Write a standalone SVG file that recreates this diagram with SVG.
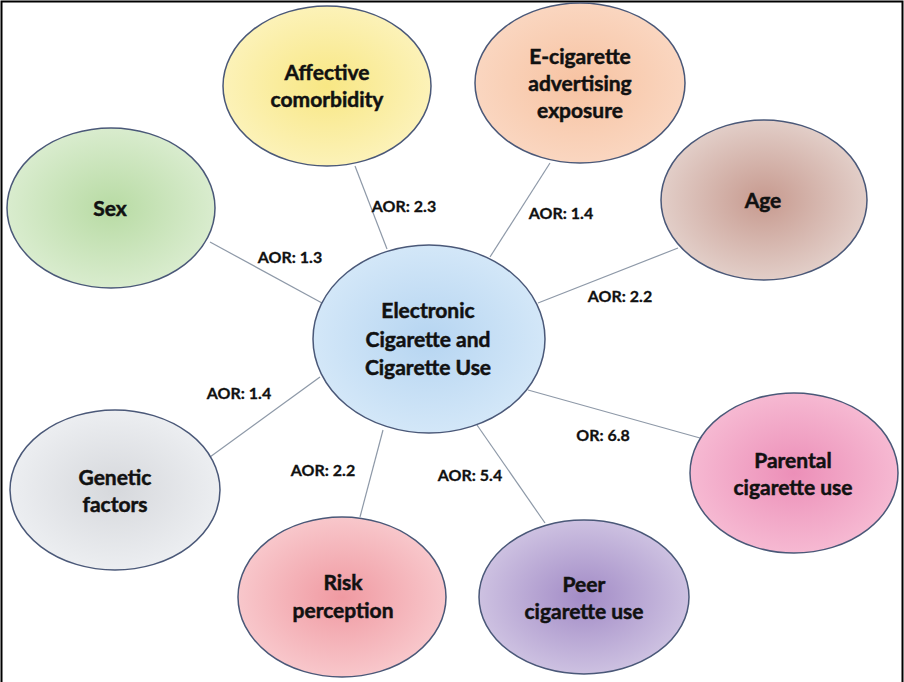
<svg xmlns="http://www.w3.org/2000/svg" width="904" height="682" viewBox="0 0 904 682">
<defs>
<radialGradient id="gCenter"><stop offset="0" stop-color="#b6d5f1"/><stop offset="1" stop-color="#d3e7f8"/></radialGradient>
<radialGradient id="gYellow"><stop offset="0" stop-color="#f8e784"/><stop offset="1" stop-color="#fcf2b8"/></radialGradient>
<radialGradient id="gGreen"><stop offset="0" stop-color="#b8dba4"/><stop offset="1" stop-color="#d9ecce"/></radialGradient>
<radialGradient id="gPeach"><stop offset="0" stop-color="#f7c3a2"/><stop offset="1" stop-color="#fad6c0"/></radialGradient>
<radialGradient id="gBrown"><stop offset="0" stop-color="#c79a8f"/><stop offset="1" stop-color="#e2cec8"/></radialGradient>
<radialGradient id="gGray"><stop offset="0" stop-color="#d6d8dc"/><stop offset="1" stop-color="#eceef1"/></radialGradient>
<radialGradient id="gRed"><stop offset="0" stop-color="#f09aa2"/><stop offset="1" stop-color="#f8c7cb"/></radialGradient>
<radialGradient id="gPink"><stop offset="0" stop-color="#ec8fb8"/><stop offset="1" stop-color="#f6b9d2"/></radialGradient>
<radialGradient id="gPurple"><stop offset="0" stop-color="#a28bc6"/><stop offset="1" stop-color="#cdc1e1"/></radialGradient>
</defs>
<style>
.node ellipse{stroke:#4a5878;stroke-width:1.5}
.node text{font-family:Lato,"Liberation Sans",sans-serif;font-weight:bold;font-size:21px;fill:#111;stroke:#111;stroke-width:0.5;text-anchor:middle}
.conn line{stroke:#8e99a8;stroke-width:1.2}
.lbl{font-family:Lato,"Liberation Sans",sans-serif;font-weight:bold;font-size:16px;fill:#111;stroke:#111;stroke-width:0.3;text-anchor:middle}
</style>
<rect width="904" height="682" fill="#ffffff"/>
<path d="M1.5,682 V1.5 H902.5 V682" fill="none" stroke="#000" stroke-width="2"/>
<g id="connectors" class="conn">
<line x1="210" y1="242" x2="322" y2="303"/>
<line x1="355" y1="166" x2="387" y2="249"/>
<line x1="550" y1="163" x2="490" y2="257"/>
<line x1="678" y1="248" x2="538" y2="303"/>
<line x1="210" y1="457" x2="320" y2="377"/>
<line x1="383" y1="430" x2="360" y2="517"/>
<line x1="477" y1="425" x2="545" y2="523"/>
<line x1="528" y1="390" x2="700" y2="438"/>
<text class="lbl" x="290" y="263">AOR: 1.3</text>
<text class="lbl" x="404" y="212">AOR: 2.3</text>
<text class="lbl" x="561" y="219">AOR: 1.4</text>
<text class="lbl" x="620" y="302">AOR: 2.2</text>
<text class="lbl" x="239" y="399">AOR: 1.4</text>
<text class="lbl" x="323" y="476">AOR: 2.2</text>
<text class="lbl" x="470" y="481">AOR: 5.4</text>
<text class="lbl" x="603" y="441">OR: 6.8</text>
</g>
<g id="node-center" class="node">
<ellipse cx="429" cy="339" rx="116" ry="94" fill="url(#gCenter)"/>
<text x="428" y="318">Electronic</text>
<text x="428" y="347">Cigarette and</text>
<text x="428" y="375">Cigarette Use</text>
</g>
<g id="node-affective" class="node">
<ellipse cx="327" cy="86" rx="104" ry="80" fill="url(#gYellow)"/>
<text x="327" y="80">Affective</text>
<text x="327" y="107">comorbidity</text>
</g>
<g id="node-sex" class="node">
<ellipse cx="111" cy="208" rx="104" ry="80" fill="url(#gGreen)"/>
<text x="110" y="216">Sex</text>
</g>
<g id="node-advertising" class="node">
<ellipse cx="580" cy="83" rx="105" ry="80" fill="url(#gPeach)"/>
<text x="580" y="64">E-cigarette</text>
<text x="580" y="91">advertising</text>
<text x="580" y="118">exposure</text>
</g>
<g id="node-age" class="node">
<ellipse cx="764" cy="200" rx="103" ry="80" fill="url(#gBrown)"/>
<text x="763" y="208">Age</text>
</g>
<g id="node-genetic" class="node">
<ellipse cx="115" cy="490" rx="105" ry="80" fill="url(#gGray)"/>
<text x="115" y="485">Genetic</text>
<text x="115" y="512">factors</text>
</g>
<g id="node-risk" class="node">
<ellipse cx="342" cy="597" rx="104" ry="80" fill="url(#gRed)"/>
<text x="343" y="590">Risk</text>
<text x="343" y="618">perception</text>
</g>
<g id="node-peer" class="node">
<ellipse cx="584" cy="597" rx="105" ry="77" fill="url(#gPurple)"/>
<text x="584" y="592">Peer</text>
<text x="584" y="619">cigarette use</text>
</g>
<g id="node-parental" class="node">
<ellipse cx="794" cy="473" rx="104" ry="80" fill="url(#gPink)"/>
<text x="793" y="468">Parental</text>
<text x="793" y="495">cigarette use</text>
</g>
</svg>
